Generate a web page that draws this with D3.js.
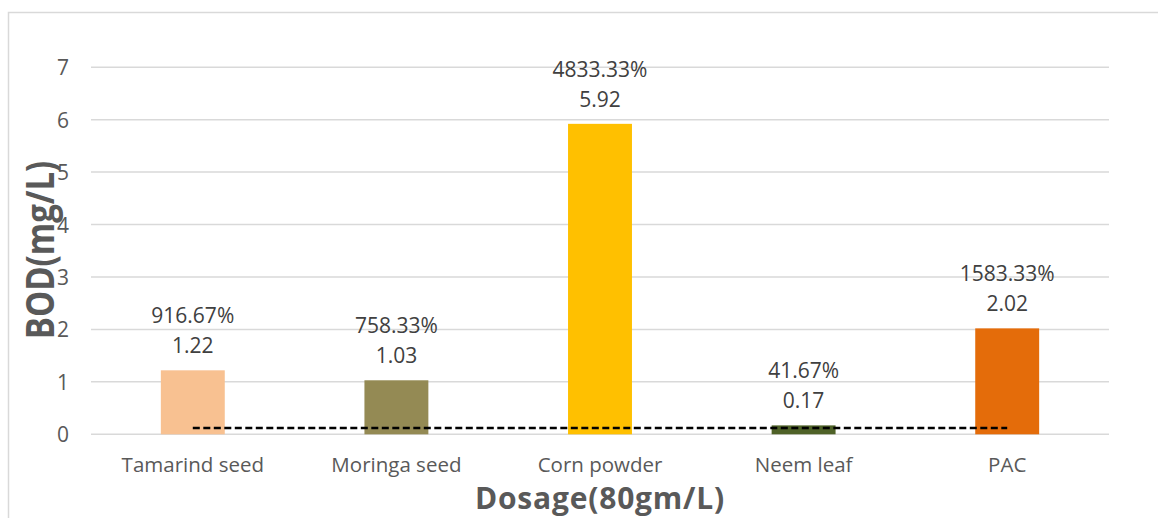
<!DOCTYPE html>
<html>
<head>
<meta charset="utf-8">
<script src="https://cdn.jsdelivr.net/npm/d3@7"></script>
<style>
  html, body { margin: 0; padding: 0; background: #fff; }
  svg { display: block; }
</style>
</head>
<body>
<svg id="chart" width="1158" height="518"></svg>
<script>
// BOD after treatment with each coagulant at 80 gm/L
const categories = ["Tamarind seed", "Moringa seed", "Corn powder", "Neem leaf", "PAC"];
const bodValues = [1.22, 1.03, 5.92, 0.17, 2.02];
const percentLabels = ["916.67%", "758.33%", "4833.33%", "41.67%", "1583.33%"];
const barColors = ["#F8C191", "#948A54", "#FFC000", "#4F6228", "#E46C0A"];
const referenceLevel = 0.12;   // dashed reference line
const yTicks = [0, 1, 2, 3, 4, 5, 6, 7];

const svg = d3.select("#chart");
const font = "'Open Sans', sans-serif";

// chart frame
svg.append("rect")
  .attr("x", 8.5).attr("y", 12.5)
  .attr("width", 1170).attr("height", 540)
  .attr("fill", "none").attr("stroke", "#d9d9d9").attr("stroke-width", 1.5);

const plot = { left: 91, right: 1109, top: 67.2, bottom: 434.3 };

const x = d3.scaleBand()
  .domain(categories)
  .range([plot.left, plot.right])
  .paddingInner(0.686)
  .paddingOuter(0.343);

const y = d3.scaleLinear()
  .domain([0, 7])
  .range([plot.bottom, plot.top]);

// gridlines
svg.append("g")
  .selectAll("line")
  .data(yTicks)
  .join("line")
  .attr("x1", plot.left).attr("x2", plot.right)
  .attr("y1", d => y(d)).attr("y2", d => y(d))
  .attr("stroke", "#d9d9d9").attr("stroke-width", 1.5);

// y axis tick labels
const yAxis = svg.append("g")
  .attr("transform", `translate(${plot.left - 22},0)`)
  .call(d3.axisLeft(y).tickValues(yTicks).tickFormat(d3.format("d")).tickSize(0).tickPadding(0));
yAxis.select(".domain").remove();
yAxis.selectAll("text")
  .attr("font-family", font).attr("font-size", 21)
  .attr("fill", "#595959").attr("dy", "0.36em");

// x axis category labels
const xAxis = svg.append("g")
  .attr("transform", `translate(0,${plot.bottom})`)
  .call(d3.axisBottom(x).tickSize(0).tickPadding(0));
xAxis.select(".domain").remove();
xAxis.selectAll("text")
  .attr("font-family", font).attr("font-size", 20.5)
  .attr("fill", "#595959").attr("y", 38).attr("dy", 0);

// bars
svg.append("g")
  .selectAll("rect")
  .data(categories)
  .join("rect")
  .attr("x", d => x(d))
  .attr("width", x.bandwidth())
  .attr("y", (d, i) => y(bodValues[i]))
  .attr("height", (d, i) => y(0) - y(bodValues[i]))
  .attr("fill", (d, i) => barColors[i]);

// dashed reference line
const refLine = d3.line()
  .x(d => x(d) + x.bandwidth() / 2)
  .y(() => y(referenceLevel));
svg.append("path")
  .datum(categories)
  .attr("d", refLine)
  .attr("fill", "none")
  .attr("stroke", "#000")
  .attr("stroke-width", 2.6)
  .attr("stroke-dasharray", "7,3.5");

// value labels: percentage above BOD value
const labels = svg.append("g")
  .attr("font-family", font).attr("font-size", 21)
  .attr("fill", "#404040").attr("text-anchor", "middle");
labels.selectAll("text.val")
  .data(categories)
  .join("text")
  .attr("class", "val")
  .attr("x", d => x(d) + x.bandwidth() / 2)
  .attr("y", (d, i) => y(bodValues[i]) - 17)
  .text((d, i) => bodValues[i].toFixed(2));
labels.selectAll("text.pct")
  .data(categories)
  .join("text")
  .attr("class", "pct")
  .attr("x", d => x(d) + x.bandwidth() / 2)
  .attr("y", (d, i) => y(bodValues[i]) - 47)
  .text((d, i) => percentLabels[i]);

// axis titles
svg.append("text")
  .attr("x", (plot.left + plot.right) / 2).attr("y", 509)
  .attr("text-anchor", "middle")
  .attr("font-family", font).attr("font-size", 30).attr("font-weight", "bold")
  .attr("letter-spacing", 0.8)
  .attr("fill", "#595959")
  .text("Dosage(80gm/L)");

svg.append("text")
  .attr("transform", "translate(54,250) rotate(-90) scale(1,1.2)")
  .attr("text-anchor", "middle")
  .attr("font-family", font).attr("font-size", 33).attr("font-weight", "bold")
  .attr("fill", "#595959")
  .text("BOD(mg/L)");
</script>
</body>
</html>
